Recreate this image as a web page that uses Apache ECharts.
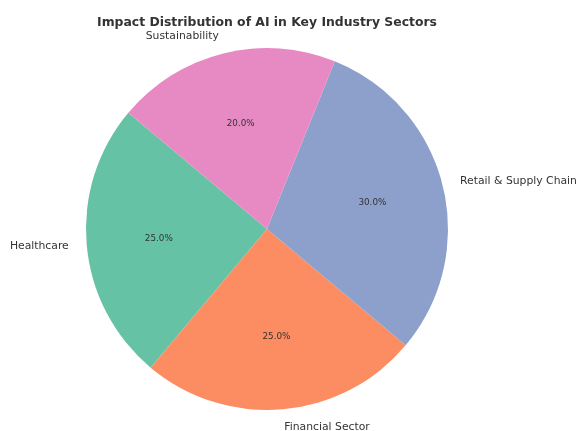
<!DOCTYPE html>
<html>
<head>
<meta charset="utf-8">
<script src="https://cdn.jsdelivr.net/npm/echarts@6/dist/echarts.min.js"></script>
<style>
  html, body { margin: 0; padding: 0; background: #fff; }
  #chart { width: 576px; height: 431px; }
</style>
</head>
<body>
<div id="chart"></div>
<script>
// data
var sectors = ['Healthcare', 'Financial Sector', 'Retail & Supply Chain', 'Sustainability'];
var shares = [25, 25, 30, 20];
var colors = ['#66c2a5', '#fc8d62', '#8da0cb', '#e78ac3'];

var R = 181;
var center = [267, 229];

var pieData = [];
for (var i = 0; i < sectors.length; i++) {
    pieData.push({ name: sectors[i], value: shares[i], itemStyle: { color: colors[i] } });
}

var chart = echarts.init(document.getElementById('chart'), null, { renderer: 'canvas' });

var option = {
    animation: false,
    title: {
        text: 'Impact Distribution of AI in Key Industry Sectors',
        left: 262,
        textAlign: 'center',
        top: 12,
        textStyle: {
            fontFamily: 'DejaVu Sans',
            fontSize: 12.4,
            fontWeight: 'bold',
            color: '#333'
        }
    },
    series: [
        {
            // slices + outer names, placed at 1.1 R
            type: 'pie',
            center: center,
            radius: [0, R],
            startAngle: 140,
            clockwise: false,
            avoidLabelOverlap: false,
            silent: true,
            data: pieData,
            label: {
                show: true,
                position: 'outside',
                formatter: '{b}',
                distanceToLabelLine: 0,
                fontFamily: 'DejaVu Sans',
                fontSize: 10.8,
                color: '#333'
            },
            labelLine: { show: false, length: 18, length2: 0 },
            itemStyle: { borderWidth: 0 }
        },
        {
            // percentage labels near 0.6 R (inside label sits at half the radius)
            type: 'pie',
            center: center,
            radius: [0, R * 1.2 - 6],
            startAngle: 140,
            clockwise: false,
            silent: true,
            data: pieData.map(function (d) {
                return { name: d.name, value: d.value, itemStyle: { color: 'rgba(0,0,0,0)' } };
            }),
            label: {
                show: true,
                position: 'inside',
                formatter: function (p) { return p.value.toFixed(1) + '%'; },
                fontFamily: 'DejaVu Sans',
                fontSize: 8.8,
                color: '#333'
            },
            labelLine: { show: false }
        }
    ]
};

chart.setOption(option);
</script>
</body>
</html>
